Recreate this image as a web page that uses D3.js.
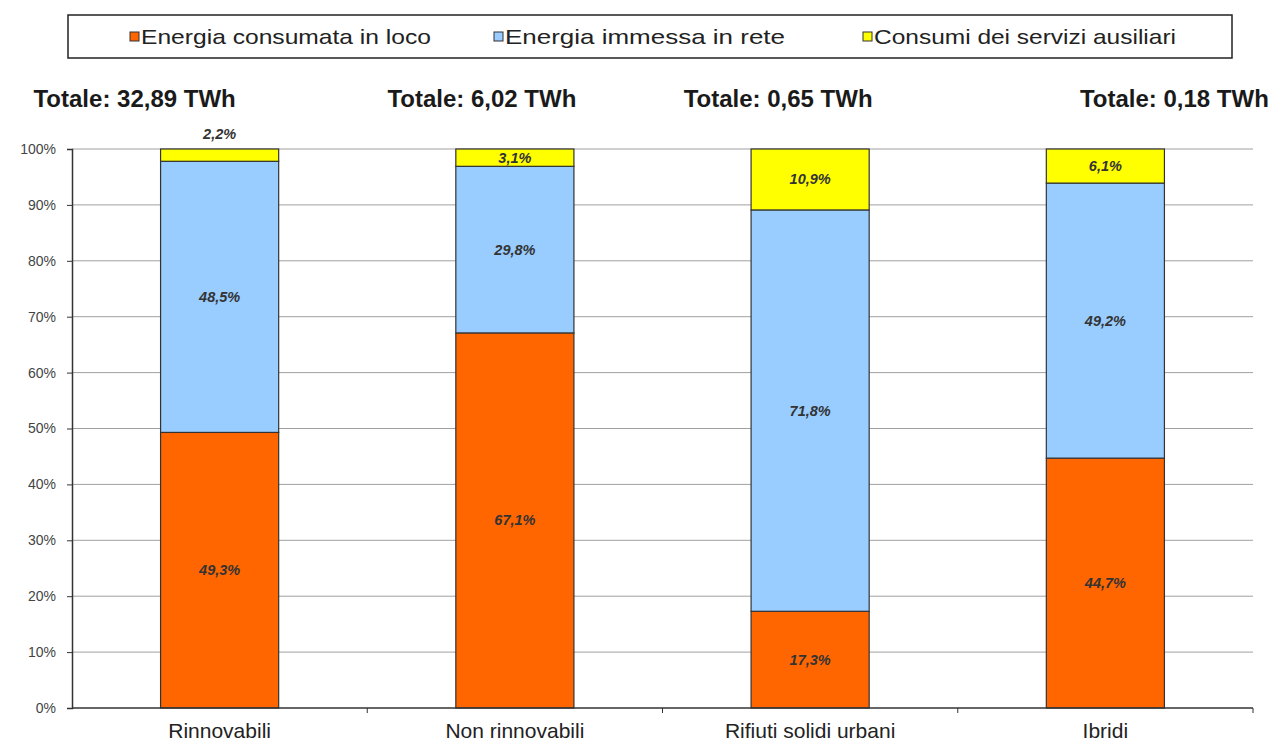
<!DOCTYPE html>
<html lang="it">
<head>
    <meta charset="utf-8">
    <script src="https://d3js.org/d3.v7.min.js"></script>
    <style>
        body { margin: 0; background: #fff; }
        text { font-family: "Liberation Sans", Arial, sans-serif; }
    </style>
</head>
<body>
    <svg width="1284" height="744"></svg>
    <script>
        // data
        const categories = ["Rinnovabili", "Non rinnovabili", "Rifiuti solidi urbani", "Ibridi"];
        const totals = ["32,89", "6,02", "0,65", "0,18"];
        const series = ["Energia consumata in loco", "Energia immessa in rete", "Consumi dei servizi ausiliari"];
        const consumata = [49.3, 67.1, 17.3, 44.7];
        const immessa = [48.5, 29.8, 71.8, 49.2];
        const ausiliari = [2.2, 3.1, 10.9, 6.1];
        const yTicks = [0, 10, 20, 30, 40, 50, 60, 70, 80, 90, 100];

        const colors = ["#ff6600", "#99ccff", "#ffff00"];
        const values = [consumata, immessa, ausiliari];

        const svg = d3.select("svg");
        const plotL = 72, plotR = 1253, plotT = 149, plotB = 708;

        const x = d3.scaleBand().domain(categories).range([plotL, plotR]).paddingInner(0.6).paddingOuter(0.3);
        const band = d3.scaleBand().domain(categories).range([plotL, plotR]);
        const y = d3.scaleLinear().domain([0, 100]).range([plotB, plotT]);

        // gridlines
        svg.append("g")
            .selectAll("line")
            .data(yTicks.filter(d => d > 0))
            .join("line")
            .attr("x1", plotL).attr("x2", plotR)
            .attr("y1", d => y(d)).attr("y2", d => y(d))
            .attr("stroke", "#a0a0a0").attr("stroke-width", 1);

        // stacked data
        const rows = categories.map((c, i) => {
            const r = {cat: c};
            series.forEach((s, j) => r[s] = values[j][i]);
            return r;
        });
        const stack = d3.stack().keys(series)(rows);

        const layer = svg.append("g")
            .selectAll("g")
            .data(stack)
            .join("g")
            .attr("fill", (d, i) => colors[i]);

        layer.selectAll("rect")
            .data(d => d)
            .join("rect")
            .attr("x", d => x(d.data.cat))
            .attr("width", x.bandwidth())
            .attr("y", d => y(d[1]))
            .attr("height", d => y(d[0]) - y(d[1]))
            .attr("stroke", "#333")
            .attr("stroke-width", 1.2);

        // value labels
        stack.forEach((s, j) => {
            svg.append("g")
                .selectAll("text")
                .data(s)
                .join("text")
                .attr("x", d => x(d.data.cat) + x.bandwidth() / 2)
                .attr("y", d => {
                    const v = d[1] - d[0];
                    if (v < 2.5) return y(d[1]) - 10;
                    return (y(d[0]) + y(d[1])) / 2 + 5;
                })
                .attr("text-anchor", "middle")
                .attr("font-size", 14.5)
                .attr("font-weight", "bold")
                .attr("font-style", "italic")
                .attr("fill", "#333")
                .text(d => d3.format(".1f")(d[1] - d[0]).replace(".", ",") + "%");
        });

        // y axis
        const yAxis = svg.append("g")
            .attr("transform", `translate(${plotL},0)`)
            .call(d3.axisLeft(y).tickValues(yTicks).tickSize(5).tickFormat(d => d + "%"));
        yAxis.select(".domain").attr("stroke", "#333").attr("stroke-width", 1.5);
        yAxis.selectAll(".tick line").attr("stroke", "#333");
        yAxis.selectAll(".tick text")
            .attr("font-size", 14).attr("fill", "#444")
            .attr("font-family", "Liberation Sans, Arial, sans-serif")
            .attr("x", -16);

        // x axis
        const xAxisG = svg.append("g").attr("transform", `translate(0,${plotB})`);
        xAxisG.append("line")
            .attr("x1", plotL).attr("x2", plotR)
            .attr("stroke", "#333").attr("stroke-width", 1.5);
        xAxisG.selectAll("line.tk")
            .data(categories)
            .join("line")
            .attr("class", "tk")
            .attr("x1", d => band(d) + band.bandwidth()).attr("x2", d => band(d) + band.bandwidth())
            .attr("y1", 0).attr("y2", 5)
            .attr("stroke", "#333");
        xAxisG.selectAll("text")
            .data(categories)
            .join("text")
            .attr("x", d => x(d) + x.bandwidth() / 2)
            .attr("y", 30)
            .attr("text-anchor", "middle")
            .attr("font-size", 21)
            .attr("fill", "#222")
            .attr("textLength", [115, 152, 196, 38])
            .attr("lengthAdjust", "spacingAndGlyphs")
            .text(d => d);

        // totals titles
        const titleOffset = [-85, -33, -32, 69];
        svg.append("g")
            .selectAll("text")
            .data(categories)
            .join("text")
            .attr("x", (d, i) => x(d) + x.bandwidth() / 2 + titleOffset[i])
            .attr("y", 107)
            .attr("text-anchor", "middle")
            .attr("font-size", 24)
            .attr("font-weight", "bold")
            .attr("fill", "#1a1a1a")
            .attr("textLength", [210, 215, 211, 213])
            .attr("lengthAdjust", "spacingAndGlyphs")
            .text((d, i) => `Totale: ${totals[i]} TWh`);

        // legend
        const legend = svg.append("g");
        legend.append("rect")
            .attr("x", 68).attr("y", 15).attr("width", 1164).attr("height", 43)
            .attr("fill", "#fff").attr("stroke", "#222").attr("stroke-width", 1.5);
        const legX = [130, 494, 863];
        series.forEach((s, i) => {
            legend.append("rect")
                .attr("x", legX[i]).attr("y", 32).attr("width", 9).attr("height", 9)
                .attr("fill", colors[i]).attr("stroke", "#333").attr("stroke-width", 1);
            legend.append("text")
                .attr("x", legX[i] + 11).attr("y", 44)
                .attr("font-size", 21)
                .attr("fill", "#222")
                .attr("textLength", [290, 280, 302][i])
                .attr("lengthAdjust", "spacingAndGlyphs")
                .text(s);
        });
    </script>
</body>
</html>
